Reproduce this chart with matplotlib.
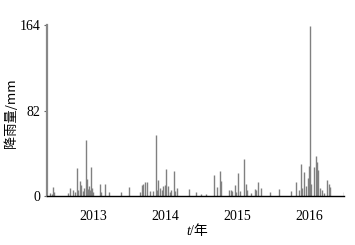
import numpy as np
import matplotlib
matplotlib.use("Agg")
import matplotlib.pyplot as plt

# rainfall records: day offset from 2013-07-01, and daily rainfall (mm)
base_date = np.datetime64("2013-07-01")
day = [-215, -207, -200, -195, -126, -116, -99, -91, -82, -76, -67, -57, -51, -43,
       -34, -29, -25, -19, -13, -7, -3, 3, 35, 40, 64, 82,
       145, 182, 237, 247, 255, 263, 276, 288, 305, 317, 323, 332, 340, 350, 356,
       364, 372, 380, 389, 397, 411, 417, 423, 485,
       520, 545, 574, 611, 630, 641, 650, 689, 697, 704, 717, 726, 736, 744, 766,
       773, 781, 799, 818, 824, 836, 848,
       894, 939, 1003, 1029, 1042, 1052, 1059, 1068, 1079, 1087, 1094, 1098, 1104,
       1116, 1126, 1133, 1140, 1146, 1157, 1170, 1182, 1194, 1201, 1269]
rain = [3, 2, 9, 4, 3, 8, 6, 4, 27, 6, 15, 11, 5, 8,
        54, 17, 7, 10, 6, 28, 8, 4, 12, 4, 12, 4,
        4, 9, 4, 11, 12, 14, 14, 5, 5, 59, 6, 16, 8, 6, 10,
        11, 26, 10, 4, 6, 24, 5, 8, 7,
        4, 2, 2, 21, 9, 24, 15, 6, 6, 5, 11, 4, 22, 5, 36,
        12, 6, 3, 7, 6, 14, 8,
        4, 7, 5, 14, 6, 31, 8, 23, 10, 18, 29, 163, 12,
        28, 39, 33, 25, 8, 6, 3, 16, 12, 9, 4]
year_labels = ["2013", "2014", "2015", "2016"]
year_pos = ["2013-07-01", "2014-07-01", "2015-07-01", "2016-07-01"]
y_ticks = [0, 82, 164]

dates = base_date + np.array(day).astype("timedelta64[D]")

plt.rcParams["font.family"] = ["Liberation Serif", "Noto Sans CJK SC"]
fig = plt.figure(figsize=(3.55, 2.45), dpi=100)
ax = fig.add_axes([0.132, 0.198, 0.838, 0.700])

ax.vlines(dates, 0, rain, color="#808080", linewidth=1.0)

ax.set_ylim(0, 164)
ax.set_xlim(base_date + np.timedelta64(-232, "D"), base_date + np.timedelta64(1271, "D"))
ax.set_yticks(y_ticks)
ax.set_yticklabels([str(v) for v in y_ticks], fontsize=10)
ax.set_xticks([np.datetime64(p) for p in year_pos])
ax.set_xticklabels(year_labels, fontsize=10)
ax.tick_params(axis="x", length=0, pad=10)
ax.tick_params(axis="y", length=2.5, width=0.8, pad=2, color="#666666")

for s in ["top", "right"]:
    ax.spines[s].set_visible(False)
ax.spines["left"].set_color("#888888")
ax.spines["left"].set_linewidth(1.6)
ax.spines["bottom"].set_color("black")
ax.spines["bottom"].set_linewidth(1.0)

ax.set_ylabel("降雨量/mm", fontsize=9.5, family=["Noto Sans CJK SC", "Liberation Serif"])
ax.yaxis.set_label_coords(-0.098, 0.487)
fig.text(0.535, 0.03, "t", fontsize=10, style="italic", ha="right", va="bottom")
fig.text(0.535, 0.03, "/年", fontsize=10, ha="left", va="bottom",
         family=["Liberation Serif", "Noto Sans CJK SC"])

fig.savefig("out.png", dpi=100)
